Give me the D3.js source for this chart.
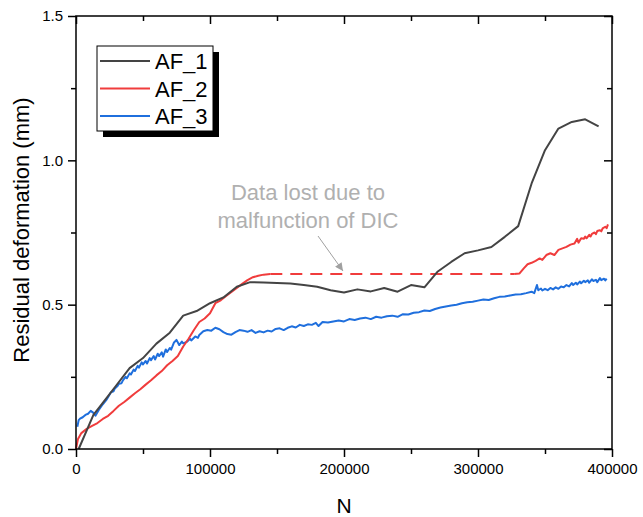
<!DOCTYPE html>
<html>
<head>
<meta charset="utf-8">
<script src="https://cdn.jsdelivr.net/npm/d3@7"></script>
<style>
  body { margin: 0; background: #fff; }
  text { font-family: "Liberation Sans", Arial, sans-serif; }
</style>
</head>
<body>
<svg id="chart" width="643" height="517"></svg>
<script>
// AF_1: [N, residual deformation mm]
const af1 = [
  [2000, 0.0], [13000, 0.118], [20000, 0.16], [30000, 0.22], [40000, 0.28],
  [50000, 0.315], [60000, 0.365], [70000, 0.403], [80000, 0.462], [90000, 0.478],
  [100000, 0.505], [110000, 0.525], [120000, 0.562], [130000, 0.578], [140000, 0.577],
  [150000, 0.575], [160000, 0.573], [170000, 0.568], [180000, 0.562], [190000, 0.55],
  [200000, 0.542], [210000, 0.553], [220000, 0.546], [230000, 0.558], [240000, 0.545],
  [250000, 0.568], [260000, 0.56], [270000, 0.615], [280000, 0.648], [290000, 0.678],
  [300000, 0.688], [310000, 0.70], [320000, 0.735], [330000, 0.772], [340000, 0.92],
  [350000, 1.035], [360000, 1.11], [370000, 1.133], [380000, 1.142], [390000, 1.118]
];

// AF_2 before the DIC dropout
const af2a = [
  [0, 0.0], [1500, 0.035], [4000, 0.055], [8000, 0.07], [12000, 0.08], [16000, 0.09],
  [20000, 0.104], [24000, 0.115], [28000, 0.132], [32000, 0.15], [36000, 0.163],
  [40000, 0.178], [44000, 0.193], [48000, 0.207], [52000, 0.223], [56000, 0.238],
  [60000, 0.255], [64000, 0.27], [68000, 0.29], [72000, 0.305], [76000, 0.322],
  [80000, 0.355], [84000, 0.382], [88000, 0.412], [92000, 0.44], [96000, 0.452],
  [100000, 0.47], [104000, 0.505], [108000, 0.515], [112000, 0.53], [116000, 0.544],
  [120000, 0.558], [124000, 0.572], [128000, 0.585], [132000, 0.595], [136000, 0.6],
  [140000, 0.604], [145000, 0.606]
];

// AF_2 gap (data lost)
const af2gap = [[145000, 0.606], [327000, 0.606]];

// AF_2 after the dropout
const af2b = [
  [327000, 0.606], [331000, 0.608], [334000, 0.625], [337000, 0.64], [340000, 0.645],
  [343000, 0.652], [346000, 0.66], [348000, 0.655], [351000, 0.672], [354000, 0.678],
  [357000, 0.672], [360000, 0.69], [363000, 0.695], [366000, 0.70], [369000, 0.708],
  [372000, 0.712], [374000, 0.728], [375000, 0.715], [377000, 0.73], [379000, 0.728],
  [380000, 0.736], [381000, 0.73], [383000, 0.742], [384000, 0.736], [385000, 0.745],
  [387000, 0.75], [388000, 0.744], [389000, 0.755], [391000, 0.758], [392000, 0.754],
  [393000, 0.764], [395000, 0.77], [396000, 0.765], [397000, 0.778]
];

// AF_3 (N in thousands)
const af3 = [
  [1, 0.077], [2, 0.1], [3, 0.105], [5, 0.11], [7, 0.118], [9, 0.122], [11, 0.132],
  [13, 0.125], [14.5, 0.115], [17, 0.135], [20, 0.155], [23, 0.172], [26, 0.196],
  [28, 0.2], [29, 0.21], [31, 0.218], [32, 0.226], [34, 0.228], [35, 0.238], [37, 0.25],
  [38, 0.245], [40, 0.262], [41, 0.258], [43, 0.275], [44, 0.27], [46, 0.288],
  [47, 0.282], [49, 0.3], [50, 0.293], [52, 0.305], [53, 0.296], [55, 0.315],
  [56, 0.308], [58, 0.322], [59, 0.31], [61, 0.33], [62, 0.322], [64, 0.335],
  [65, 0.32], [67, 0.345], [68, 0.336], [70, 0.35], [71, 0.344], [73, 0.368],
  [75, 0.378], [77, 0.36], [79, 0.372], [80, 0.366], [83, 0.372], [85, 0.382],
  [86, 0.376], [89, 0.39], [91, 0.385], [92, 0.395], [95, 0.408], [98, 0.412],
  [101, 0.41], [104, 0.42], [107, 0.415], [110, 0.405], [113, 0.398], [116, 0.396],
  [119, 0.405], [122, 0.412], [125, 0.41], [128, 0.406], [131, 0.412], [134, 0.402],
  [137, 0.408], [140, 0.404], [143, 0.41], [146, 0.407], [149, 0.416], [152, 0.418],
  [155, 0.412], [158, 0.42], [161, 0.425], [164, 0.421], [167, 0.43], [170, 0.426],
  [173, 0.432], [176, 0.43], [179, 0.437], [181, 0.426], [184, 0.44], [188, 0.438],
  [192, 0.442], [196, 0.445], [200, 0.442], [204, 0.45], [208, 0.447], [212, 0.452],
  [216, 0.455], [220, 0.45], [224, 0.458], [228, 0.455], [232, 0.46], [236, 0.462],
  [240, 0.458], [244, 0.467], [248, 0.466], [252, 0.472], [256, 0.474], [260, 0.48],
  [264, 0.478], [268, 0.485], [272, 0.49], [276, 0.494], [280, 0.497], [284, 0.5],
  [288, 0.505], [292, 0.508], [296, 0.51], [300, 0.514], [304, 0.518], [308, 0.516],
  [312, 0.522], [316, 0.527], [320, 0.528], [324, 0.532], [328, 0.535], [332, 0.536],
  [336, 0.54], [340, 0.545], [342, 0.54], [344, 0.568], [345, 0.55], [347, 0.556],
  [348, 0.549], [350, 0.555], [352, 0.55], [354, 0.558], [356, 0.553], [358, 0.56],
  [360, 0.555], [362, 0.563], [364, 0.56], [366, 0.568], [368, 0.563], [370, 0.575],
  [371, 0.568], [373, 0.576], [374, 0.57], [376, 0.58], [377, 0.574], [379, 0.583],
  [380, 0.578], [382, 0.584], [383, 0.576], [385, 0.588], [386, 0.582], [388, 0.586],
  [389, 0.578], [391, 0.592], [392, 0.585], [394, 0.59], [395, 0.584], [396, 0.59]
].map(d => [d[0] * 1000, d[1]]);

const xTicks = [0, 100000, 200000, 300000, 400000];
const xMinor = [50000, 150000, 250000, 350000];
const yTicks = [0, 0.5, 1.0, 1.5];
const yMinor = [0.25, 0.75, 1.25];
const seriesNames = ["AF_1", "AF_2", "AF_3"];
const colors = ["#444444", "#f03c3c", "#1f6fdd"];

const svg = d3.select("#chart");
const x = d3.scaleLinear().domain([0, 400000]).range([76, 612]);
const y = d3.scaleLinear().domain([0, 1.5]).range([449, 16]);

// axes: outward ticks left/bottom, inward ticks top/right
function drawAxes() {
  const g = svg.append("g");
  g.append("g").attr("transform", "translate(0,449)")
    .call(d3.axisBottom(x).tickValues(xTicks).tickSize(8).tickFormat(d3.format("d")).tickPadding(6));
  g.append("g").attr("transform", "translate(0,449)")
    .call(d3.axisBottom(x).tickValues(xMinor).tickSize(5).tickFormat(""));
  g.append("g").attr("transform", "translate(76,0)")
    .call(d3.axisLeft(y).tickValues(yTicks).tickSize(8).tickFormat(d3.format(".1f")).tickPadding(5));
  g.append("g").attr("transform", "translate(76,0)")
    .call(d3.axisLeft(y).tickValues(yMinor).tickSize(5).tickFormat(""));
  g.append("g").attr("transform", "translate(0,16)")
    .call(d3.axisTop(x).tickValues(xTicks).tickSize(-8).tickFormat(""));
  g.append("g").attr("transform", "translate(0,16)")
    .call(d3.axisTop(x).tickValues(xMinor).tickSize(-5).tickFormat(""));
  g.append("g").attr("transform", "translate(612,0)")
    .call(d3.axisRight(y).tickValues(yTicks).tickSize(-8).tickFormat(""));
  g.append("g").attr("transform", "translate(612,0)")
    .call(d3.axisRight(y).tickValues(yMinor).tickSize(-5).tickFormat(""));

  g.selectAll(".domain").remove();
  g.selectAll(".tick line").attr("stroke", "#000").attr("stroke-width", 1.5);
  g.selectAll(".tick text").attr("fill", "#000").style("font-size", "15px")
    .style("font-family", "'Liberation Sans', Arial, sans-serif");

  g.append("rect")
    .attr("x", 76).attr("y", 16).attr("width", 536).attr("height", 433)
    .attr("fill", "none").attr("stroke", "#000").attr("stroke-width", 1.5);
}

const line = d3.line().x(d => x(d[0])).y(d => y(d[1]));

function drawSeries() {
  const g = svg.append("g").attr("fill", "none").attr("stroke-width", 2)
    .attr("stroke-linejoin", "round");
  g.append("path").datum(af3).attr("d", line).attr("stroke", colors[2]);
  g.append("path").datum(af2a).attr("d", line).attr("stroke", colors[1]);
  g.append("path").datum(af2b).attr("d", line).attr("stroke", colors[1]);
  g.append("path").datum(af2gap).attr("d", line).attr("stroke", colors[1])
    .attr("stroke-dasharray", "12,8");
  g.append("path").datum(af1).attr("d", line).attr("stroke", colors[0]);
}

function drawLegend() {
  const g = svg.append("g");
  g.append("rect").attr("x", 103).attr("y", 52).attr("width", 116).attr("height", 85)
    .attr("fill", "#000");
  g.append("rect").attr("x", 97).attr("y", 46).attr("width", 116).attr("height", 85)
    .attr("fill", "#fff").attr("stroke", "#000").attr("stroke-width", 1);
  seriesNames.forEach((name, i) => {
    const yy = 61 + i * 27.5;
    g.append("line").attr("x1", 100).attr("x2", 150).attr("y1", yy).attr("y2", yy)
      .attr("stroke", colors[i]).attr("stroke-width", 2);
    g.append("text").attr("x", 155).attr("y", yy + 8).text(name)
      .style("font-size", "22px").attr("fill", "#000");
  });
}

function drawAnnotation() {
  const g = svg.append("g");
  const grey = "#b0b0b0";
  g.append("text").attr("x", 308).attr("y", 200).attr("text-anchor", "middle")
    .style("font-size", "22px").attr("fill", grey).text("Data lost due to");
  g.append("text").attr("x", 308).attr("y", 228).attr("text-anchor", "middle")
    .style("font-size", "22px").attr("fill", grey).text("malfunction of DIC");
  svg.append("defs").append("marker").attr("id", "arr")
    .attr("viewBox", "0 0 10 10").attr("refX", 10).attr("refY", 5)
    .attr("markerWidth", 10).attr("markerHeight", 8).attr("markerUnits", "userSpaceOnUse")
    .attr("orient", "auto")
    .append("path").attr("d", "M0,0L10,5L0,10Z").attr("fill", "#a0a0a0");
  g.append("line").attr("x1", 318).attr("y1", 236).attr("x2", 343).attr("y2", 271)
    .attr("stroke", "#a0a0a0").attr("stroke-width", 1).attr("marker-end", "url(#arr)");
}

function drawTitles() {
  svg.append("text").attr("x", 344).attr("y", 513).attr("text-anchor", "middle")
    .style("font-size", "21px").attr("fill", "#000").text("N");
  svg.append("text").attr("transform", "translate(29,230) rotate(-90)")
    .attr("text-anchor", "middle").style("font-size", "22px").attr("fill", "#000")
    .text("Residual deformation (mm)");
}

drawSeries();
drawAxes();
drawLegend();
drawAnnotation();
drawTitles();
</script>
</body>
</html>
